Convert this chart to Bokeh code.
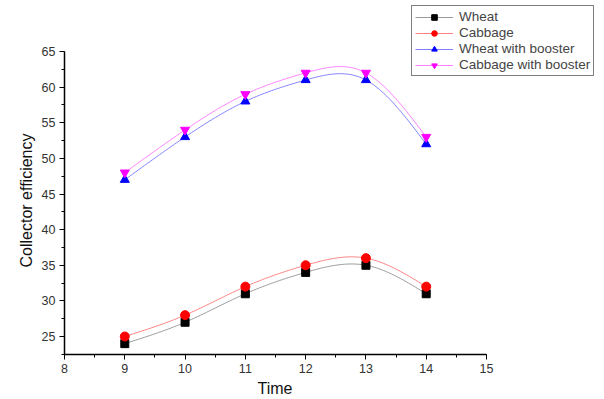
import numpy as np
from bokeh.plotting import figure
from bokeh.models import Legend, LegendItem, Range1d, SingleIntervalTicker, Title
from bokeh.embed import file_html
from bokeh.resources import INLINE

time = [9, 10, 11, 12, 13, 14]
wheat = [24, 27, 31, 34, 35, 31]
cabbage = [25, 28, 32, 35, 36, 32]
wheat_booster = [47, 53, 58, 61, 61, 52]
cabbage_booster = [48, 54, 59, 62, 62, 53]


def natural_spline(x, y, n=200):
    x = np.asarray(x, float)
    y = np.asarray(y, float)
    k = len(x)
    h = np.diff(x)
    A = np.zeros((k, k))
    r = np.zeros(k)
    A[0, 0] = A[-1, -1] = 1
    for i in range(1, k - 1):
        A[i, i - 1] = h[i - 1]
        A[i, i] = 2 * (h[i - 1] + h[i])
        A[i, i + 1] = h[i]
        r[i] = 3 * ((y[i + 1] - y[i]) / h[i] - (y[i] - y[i - 1]) / h[i - 1])
    c = np.linalg.solve(A, r)
    b = np.zeros(k - 1)
    d = np.zeros(k - 1)
    for i in range(k - 1):
        b[i] = (y[i + 1] - y[i]) / h[i] - h[i] * (2 * c[i] + c[i + 1]) / 3
        d[i] = (c[i + 1] - c[i]) / (3 * h[i])
    xs = np.linspace(x[0], x[-1], n)
    idx = np.clip(np.searchsorted(x, xs, side="right") - 1, 0, k - 2)
    dx = xs - x[idx]
    ys = y[idx] + b[idx] * dx + c[idx] * dx ** 2 + d[idx] * dx ** 3
    return xs, ys


# frame spans most of the canvas so the legend (outside the axes area) is not clipped
px_x = (486 - 64) / 7.0
px_y = 285 / 40.0
y_lo = 25 - 18 / px_y
p = figure(width=604, height=399, output_backend="svg", toolbar_location=None,
           x_range=Range1d(8, 8 + (602 - 64) / px_x),
           y_range=Range1d(y_lo, 65 + 51 / px_y),
           min_border_left=64, min_border_right=2, min_border_top=0, min_border_bottom=45)
p.outline_line_color = None
p.xgrid.visible = False
p.ygrid.visible = False

series = [
    ("Wheat", wheat, "#9a9a9a", "black", "square", 8),
    ("Cabbage", cabbage, "#ff8080", "red", "circle", 9),
    ("Wheat with booster", wheat_booster, "#8080ff", "blue", "triangle", 9),
    ("Cabbage with booster", cabbage_booster, "#ff80ff", "magenta", "inverted_triangle", 9),
]

items = []
for name, vals, lc, mc, mk, sz in series:
    xs, ys = natural_spline(time, vals)
    ln = p.line(xs, ys, line_color=lc, line_width=1)
    sc = p.scatter(time, vals, marker=mk, size=sz, fill_color=mc, line_color=mc)
    items.append(LegendItem(label=name, renderers=[ln, sc]))

font = "Liberation Sans"
for ax in (p.xaxis[0], p.yaxis[0]):
    ax.axis_line_color = "black"
    ax.axis_line_width = 1.5
    ax.major_tick_line_color = "black"
    ax.minor_tick_line_color = "black"
    ax.major_tick_out = 5
    ax.major_tick_in = 0
    ax.minor_tick_out = 3
    ax.minor_tick_in = 0
    ax.major_label_text_font = font
    ax.major_label_text_font_size = "12.5px"
    ax.major_label_text_color = "#333333"

p.xaxis.ticker = SingleIntervalTicker(interval=1, num_minor_ticks=2)
p.yaxis.ticker = SingleIntervalTicker(interval=5, num_minor_ticks=2)
p.xaxis.bounds = (8, 15)
p.yaxis.bounds = (y_lo, 65)
p.yaxis.major_label_standoff = 4
p.xaxis.major_label_standoff = 4

# axis titles as panel titles so they can be centred on the drawn axis extent
xt = Title(text="Time", align="left", offset=193, text_font=font,
           text_font_size="16px", text_font_style="normal", text_color="#111111",
           standoff=5)
p.add_layout(xt, "below")
yt = Title(text="Collector efficiency", align="left", offset=87, text_font=font,
           text_font_size="16px", text_font_style="normal", text_color="#111111",
           standoff=8)
p.add_layout(yt, "left")

legend = Legend(items=items, location=(347, 278), border_line_color="black",
                border_line_width=1, background_fill_alpha=1,
                label_text_font=font, label_text_font_size="13.5px",
                label_height=14, glyph_height=14, glyph_width=38, spacing=1,
                padding=3, margin=0, label_standoff=6)
p.add_layout(legend, "center")

open("out.html", "w").write(file_html(p, INLINE))
